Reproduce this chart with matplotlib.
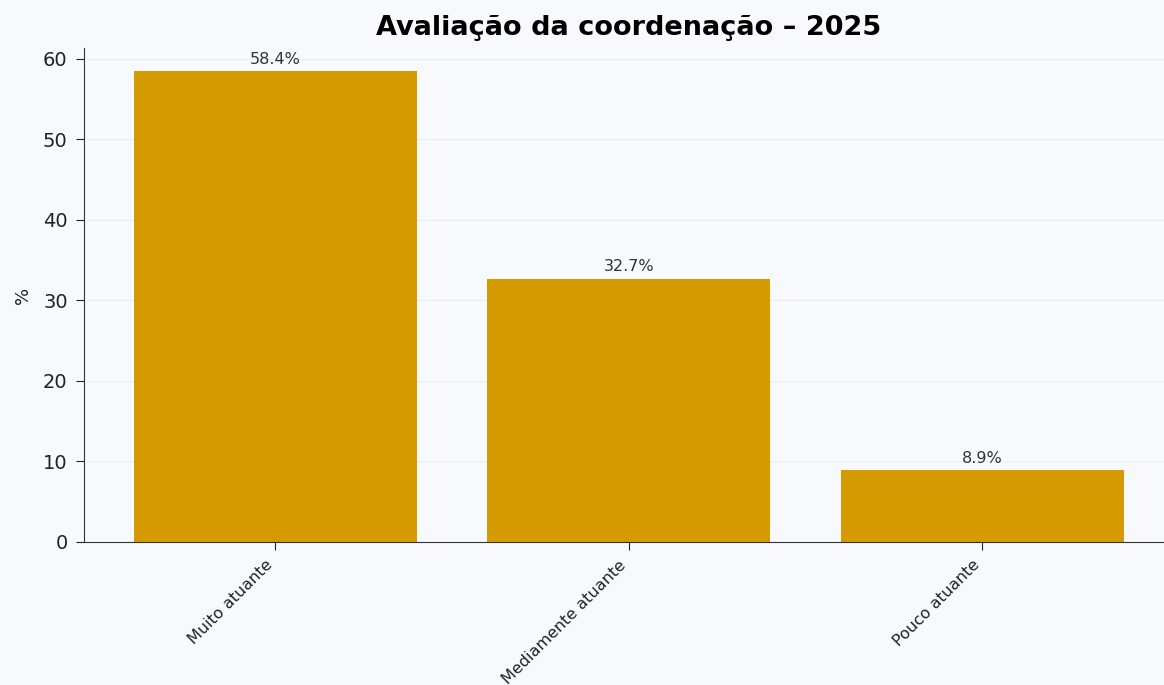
import matplotlib
matplotlib.use('Agg')
import matplotlib.pyplot as plt

##DATA##
categories = ['Muito atuante', 'Mediamente atuante', 'Pouco atuante']
percentages = [58.4, 32.7, 8.9]

bg = '#f8f9fd'
bar_color = '#d49a00'

fig = plt.figure(figsize=(11.64, 6.85), dpi=100, facecolor=bg)
ax = fig.add_axes([0.0725, 0.2088, 0.9356, 0.7212])
ax.set_facecolor(bg)

bars = ax.bar(categories, percentages, color=bar_color, width=0.8, zorder=2)

# labels above bars
for b, v in zip(bars, percentages):
    ax.annotate(f'{v:.1f}%', (b.get_x() + b.get_width() / 2, v),
                xytext=(0, 3), textcoords='offset points',
                ha='center', va='bottom', fontsize=11.5, color='#333333')

ax.set_ylim(0, max(percentages) * 1.05)
ax.set_yticks([0, 10, 20, 30, 40, 50, 60])
ax.yaxis.grid(True, color='#e6e6e6', linewidth=0.8, alpha=0.6, zorder=0)
ax.set_axisbelow(True)

ax.spines['top'].set_visible(False)
ax.spines['right'].set_visible(False)
ax.spines['left'].set_color('#333333')
ax.spines['bottom'].set_color('#333333')

ax.tick_params(axis='both', length=6, color='#333333')
ax.tick_params(axis='y', labelsize=14, colors='#222222', pad=6)
ax.tick_params(axis='x', labelsize=11.5, colors='#222222', pad=5)
plt.setp(ax.get_xticklabels(), rotation=45, ha='right')

ax.set_ylabel('%', fontsize=13, color='#222222', labelpad=8)
ax.set_title('Avaliação da coordenação – 2025', fontsize=19.5, fontweight='bold', pad=9.5)

fig.savefig('out.png', dpi=100, facecolor=bg)
